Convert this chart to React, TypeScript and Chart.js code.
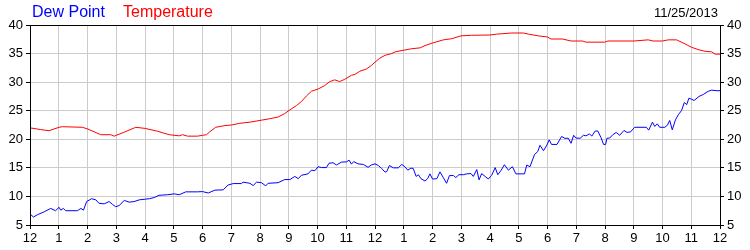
import React, { useEffect, useRef } from 'react';
import { Chart, registerables } from 'chart.js';

Chart.register(...registerables);

const hourLabels = ['12', '1', '2', '3', '4', '5', '6', '7', '8', '9', '10', '11', '12', '1', '2', '3', '4', '5', '6', '7', '8', '9', '10', '11', '12'];
const seriesNames = ['Dew Point', 'Temperature'];
const dateLabel = '11/25/2013';

const tempHours = [0.00, 0.37, 0.66, 1.01, 1.13, 1.82, 2.01, 2.46, 2.81, 2.93, 3.28, 3.68, 4.01, 4.44, 4.84, 5.19, 5.31, 5.48, 5.83,
  6.00, 6.14, 6.25, 6.46, 6.78, 7.01, 7.30, 7.65, 8.00, 8.34, 8.63, 8.86, 9.01, 9.27, 9.44, 9.62, 9.79, 10.02, 10.25, 10.43, 10.60, 10.77, 10.95, 11.18, 11.30, 11.47, 11.70, 11.87,
  12.00, 12.17, 12.35, 12.58, 12.70, 13.01, 13.28, 13.57, 13.74, 14.00, 14.38, 14.67, 14.99, 15.36, 16.00, 16.23, 16.76, 17.16, 17.34, 17.68,
  18.00, 18.12, 18.52, 18.82, 19.22, 19.34, 19.98, 20.10, 21.01, 21.50, 21.67, 22.00, 22.20, 22.49, 22.78, 23.01, 23.24, 23.48, 23.71, 23.83, 24.00];
const tempValues = [22.0, 21.7, 21.5, 22.1, 22.2, 22.1, 21.8, 20.8, 20.8, 20.55, 21.25, 22.1, 21.9, 21.4, 20.8, 20.6, 20.8, 20.55, 20.55,
  20.7, 20.8, 21.3, 22.1, 22.4, 22.5, 22.8, 23.0, 23.3, 23.6, 23.9, 24.5, 25.05, 25.9, 26.6, 27.6, 28.4, 28.8, 29.4, 30.1, 30.4, 30.1, 30.5, 31.2, 31.35, 31.9, 32.3, 32.9,
  33.5, 34.2, 34.7, 35.0, 35.3, 35.6, 35.85, 36.0, 36.4, 36.85, 37.4, 37.6, 38.1, 38.2, 38.25, 38.4, 38.6, 38.6, 38.4, 38.1,
  37.9, 37.55, 37.55, 37.2, 37.2, 37.0, 37.0, 37.2, 37.2, 37.4, 37.2, 37.2, 37.4, 37.4, 36.7, 36.1, 35.7, 35.4, 35.3, 34.9, 34.9];

const dewHours = [0.00, 0.12, 0.26, 0.49, 0.72, 0.89, 1.01, 1.07, 1.16, 1.24, 1.65, 1.77, 1.86, 1.97, 2.14, 2.29, 2.40, 2.58, 2.75, 2.87, 2.98, 3.10, 3.28, 3.45, 3.62, 3.80, 3.97, 4.15, 4.32, 4.49, 4.79, 5.02, 5.19, 5.42, 5.83,
  6.00, 6.20, 6.43, 6.72, 6.89, 7.07, 7.36, 7.41, 7.65, 7.76, 7.88, 8.05, 8.20, 8.28, 8.63, 8.86, 9.04, 9.21, 9.33, 9.44, 9.67, 9.79, 9.91, 10.02, 10.14, 10.31, 10.40, 10.54, 10.66, 10.83, 11.01, 11.10, 11.18, 11.26, 11.41, 11.59, 11.76, 11.87,
  12.00, 12.12, 12.23, 12.35, 12.41, 12.50, 12.64, 12.81, 12.93, 13.04, 13.14, 13.25, 13.33, 13.43, 13.51, 13.60, 13.74, 13.83, 13.91, 14.00, 14.15, 14.26, 14.38, 14.49, 14.59, 14.73, 14.81, 14.92, 15.07, 15.19, 15.34, 15.42, 15.54, 15.62, 15.71, 15.83, 15.94, 16.06, 16.18, 16.27, 16.39, 16.50, 16.64, 16.78, 16.90, 17.20, 17.28, 17.39, 17.55, 17.66, 17.74, 17.86,
  17.98, 18.06, 18.14, 18.33, 18.49, 18.61, 18.72, 18.82, 18.91, 18.99, 19.14, 19.25, 19.34, 19.46, 19.54, 19.66, 19.75, 19.86, 19.95, 20.02, 20.07, 20.16, 20.27, 20.39, 20.51, 20.66, 20.77, 20.89, 21.03, 21.44, 21.52, 21.65, 21.73, 21.82, 21.90, 22.08, 22.17, 22.25, 22.34, 22.45, 22.55, 22.66, 22.76, 22.84, 22.92, 23.01, 23.10, 23.27, 23.42, 23.59, 23.71, 23.89, 24.00];
const dewValues = [6.94, 6.4, 6.8, 7.3, 7.9, 7.5, 8.1, 7.6, 7.9, 7.5, 7.5, 7.9, 7.6, 9.1, 9.6, 9.4, 8.8, 8.7, 9.1, 8.6, 8.2, 8.4, 9.3, 9.0, 9.1, 9.4, 9.5, 9.6, 9.8, 10.2, 10.3, 10.45, 10.3, 10.8, 10.8,
  10.85, 10.6, 11.1, 11.15, 12.0, 12.25, 12.25, 12.5, 12.3, 11.9, 12.5, 12.4, 11.85, 12.3, 12.4, 12.95, 12.95, 13.5, 13.1, 13.7, 13.95, 14.6, 14.5, 15.2, 15.05, 15.05, 15.8, 15.9, 15.5, 16.0, 16.05, 16.35, 15.65, 16.1, 15.7, 15.6, 15.1, 15.5,
  15.7, 15.4, 14.9, 14.25, 14.35, 15.4, 15.0, 15.0, 15.6, 15.2, 14.6, 14.95, 14.9, 13.5, 13.8, 13.1, 12.7, 13.1, 13.95, 13.05, 13.1, 14.3, 13.25, 12.3, 13.65, 13.65, 13.3, 13.8, 13.8, 13.95, 14.0, 13.5, 14.7, 12.9, 14.0, 13.5, 13.05, 13.7, 15.05, 13.8, 14.6, 15.55, 14.6, 15.2, 13.95, 13.95, 15.5, 15.2, 17.35, 17.85, 18.95, 18.0,
  19.0, 19.9, 19.1, 19.1, 20.5, 20.15, 20.2, 19.3, 20.7, 20.2, 20.2, 20.7, 20.6, 20.95, 20.55, 21.45, 21.45, 20.3, 19.1, 19.1, 20.2, 20.2, 20.8, 21.2, 20.7, 21.55, 21.2, 21.3, 22.1, 22.1, 21.6, 23.0, 22.25, 22.7, 22.1, 22.1, 22.45, 23.3, 21.65, 23.4, 24.3, 25.0, 26.45, 26.05, 27.2, 27.0, 26.8, 27.5, 27.85, 28.4, 28.6, 28.5, 28.5];

const FONT = '"Liberation Sans", Arial, sans-serif';

const overlayPlugin = {
  id: 'overlay',
  afterDraw(chart: any) {
    const { ctx, chartArea: a } = chart;
    ctx.save();
    ctx.strokeStyle = '#000';
    ctx.lineWidth = 1;
    ctx.strokeRect(a.left + 0.5, a.top + 0.5, a.right - a.left, a.bottom - a.top);
    ctx.textBaseline = 'alphabetic';
    ctx.font = '16px ' + FONT;
    ctx.textAlign = 'left';
    ctx.fillStyle = '#0000ff';
    ctx.fillText(seriesNames[0], 32, 17);
    ctx.fillStyle = '#ff0000';
    ctx.fillText(seriesNames[1], 123, 17);
    ctx.font = '13px ' + FONT;
    ctx.textAlign = 'right';
    ctx.fillStyle = '#000';
    ctx.fillText(dateLabel, 718, 17);
    ctx.restore();
  },
};

export default function App() {
  const ref = useRef<HTMLCanvasElement>(null);
  useEffect(() => {
    if (!ref.current) return;
    const tick = { color: '#000', font: { family: FONT, size: 13 } };
    const chart = new Chart(ref.current, {
      type: 'line',
      data: {
        datasets: [
          {
            label: seriesNames[0],
            data: dewHours.map((h, i) => ({ x: h, y: dewValues[i] })),
            borderColor: '#0000ff',
            borderWidth: 1,
            pointRadius: 0,
            tension: 0,
            yAxisID: 'y',
          },
          {
            label: seriesNames[1],
            data: tempHours.map((h, i) => ({ x: h, y: tempValues[i] })),
            borderColor: '#ff0000',
            borderWidth: 1,
            pointRadius: 0,
            tension: 0,
            yAxisID: 'y',
          },
        ],
      },
      options: {
        animation: false,
        responsive: false,
        layout: { padding: { top: 25, left: 0, right: 0, bottom: 0 } },
        plugins: { legend: { display: false }, tooltip: { enabled: false } },
        scales: {
          x: {
            type: 'linear',
            min: 0,
            max: 24,
            afterFit: (s: any) => { s.height = 25; },
            grid: { color: '#cccccc', tickColor: '#000', tickLength: 4 },
            border: { display: true, color: '#000' },
            ticks: {
              ...tick,
              stepSize: 1,
              autoSkip: false,
              maxRotation: 0,
              padding: 2,
              callback: (v: any) => hourLabels[v] ?? '',
            },
          },
          y: {
            position: 'left',
            min: 5,
            max: 40,
            afterFit: (s: any) => { s.width = 30; },
            grid: { color: '#cccccc', tickColor: '#000', tickLength: 4 },
            border: { display: true, color: '#000' },
            ticks: { ...tick, stepSize: 5, padding: 3 },
          },
          y2: {
            position: 'right',
            min: 5,
            max: 40,
            afterFit: (s: any) => { s.width = 30; },
            grid: { drawOnChartArea: false, tickColor: '#000', tickLength: 4 },
            border: { display: true, color: '#000' },
            ticks: { ...tick, stepSize: 5, padding: 3 },
          },
        },
      },
      plugins: [overlayPlugin],
    });
    return () => chart.destroy();
  }, []);
  return (
    <div style={{ position: 'fixed', left: 0, top: 0, width: 750, height: 250, background: '#fff' }}>
      <canvas ref={ref} width={750} height={250} />
    </div>
  );
}
